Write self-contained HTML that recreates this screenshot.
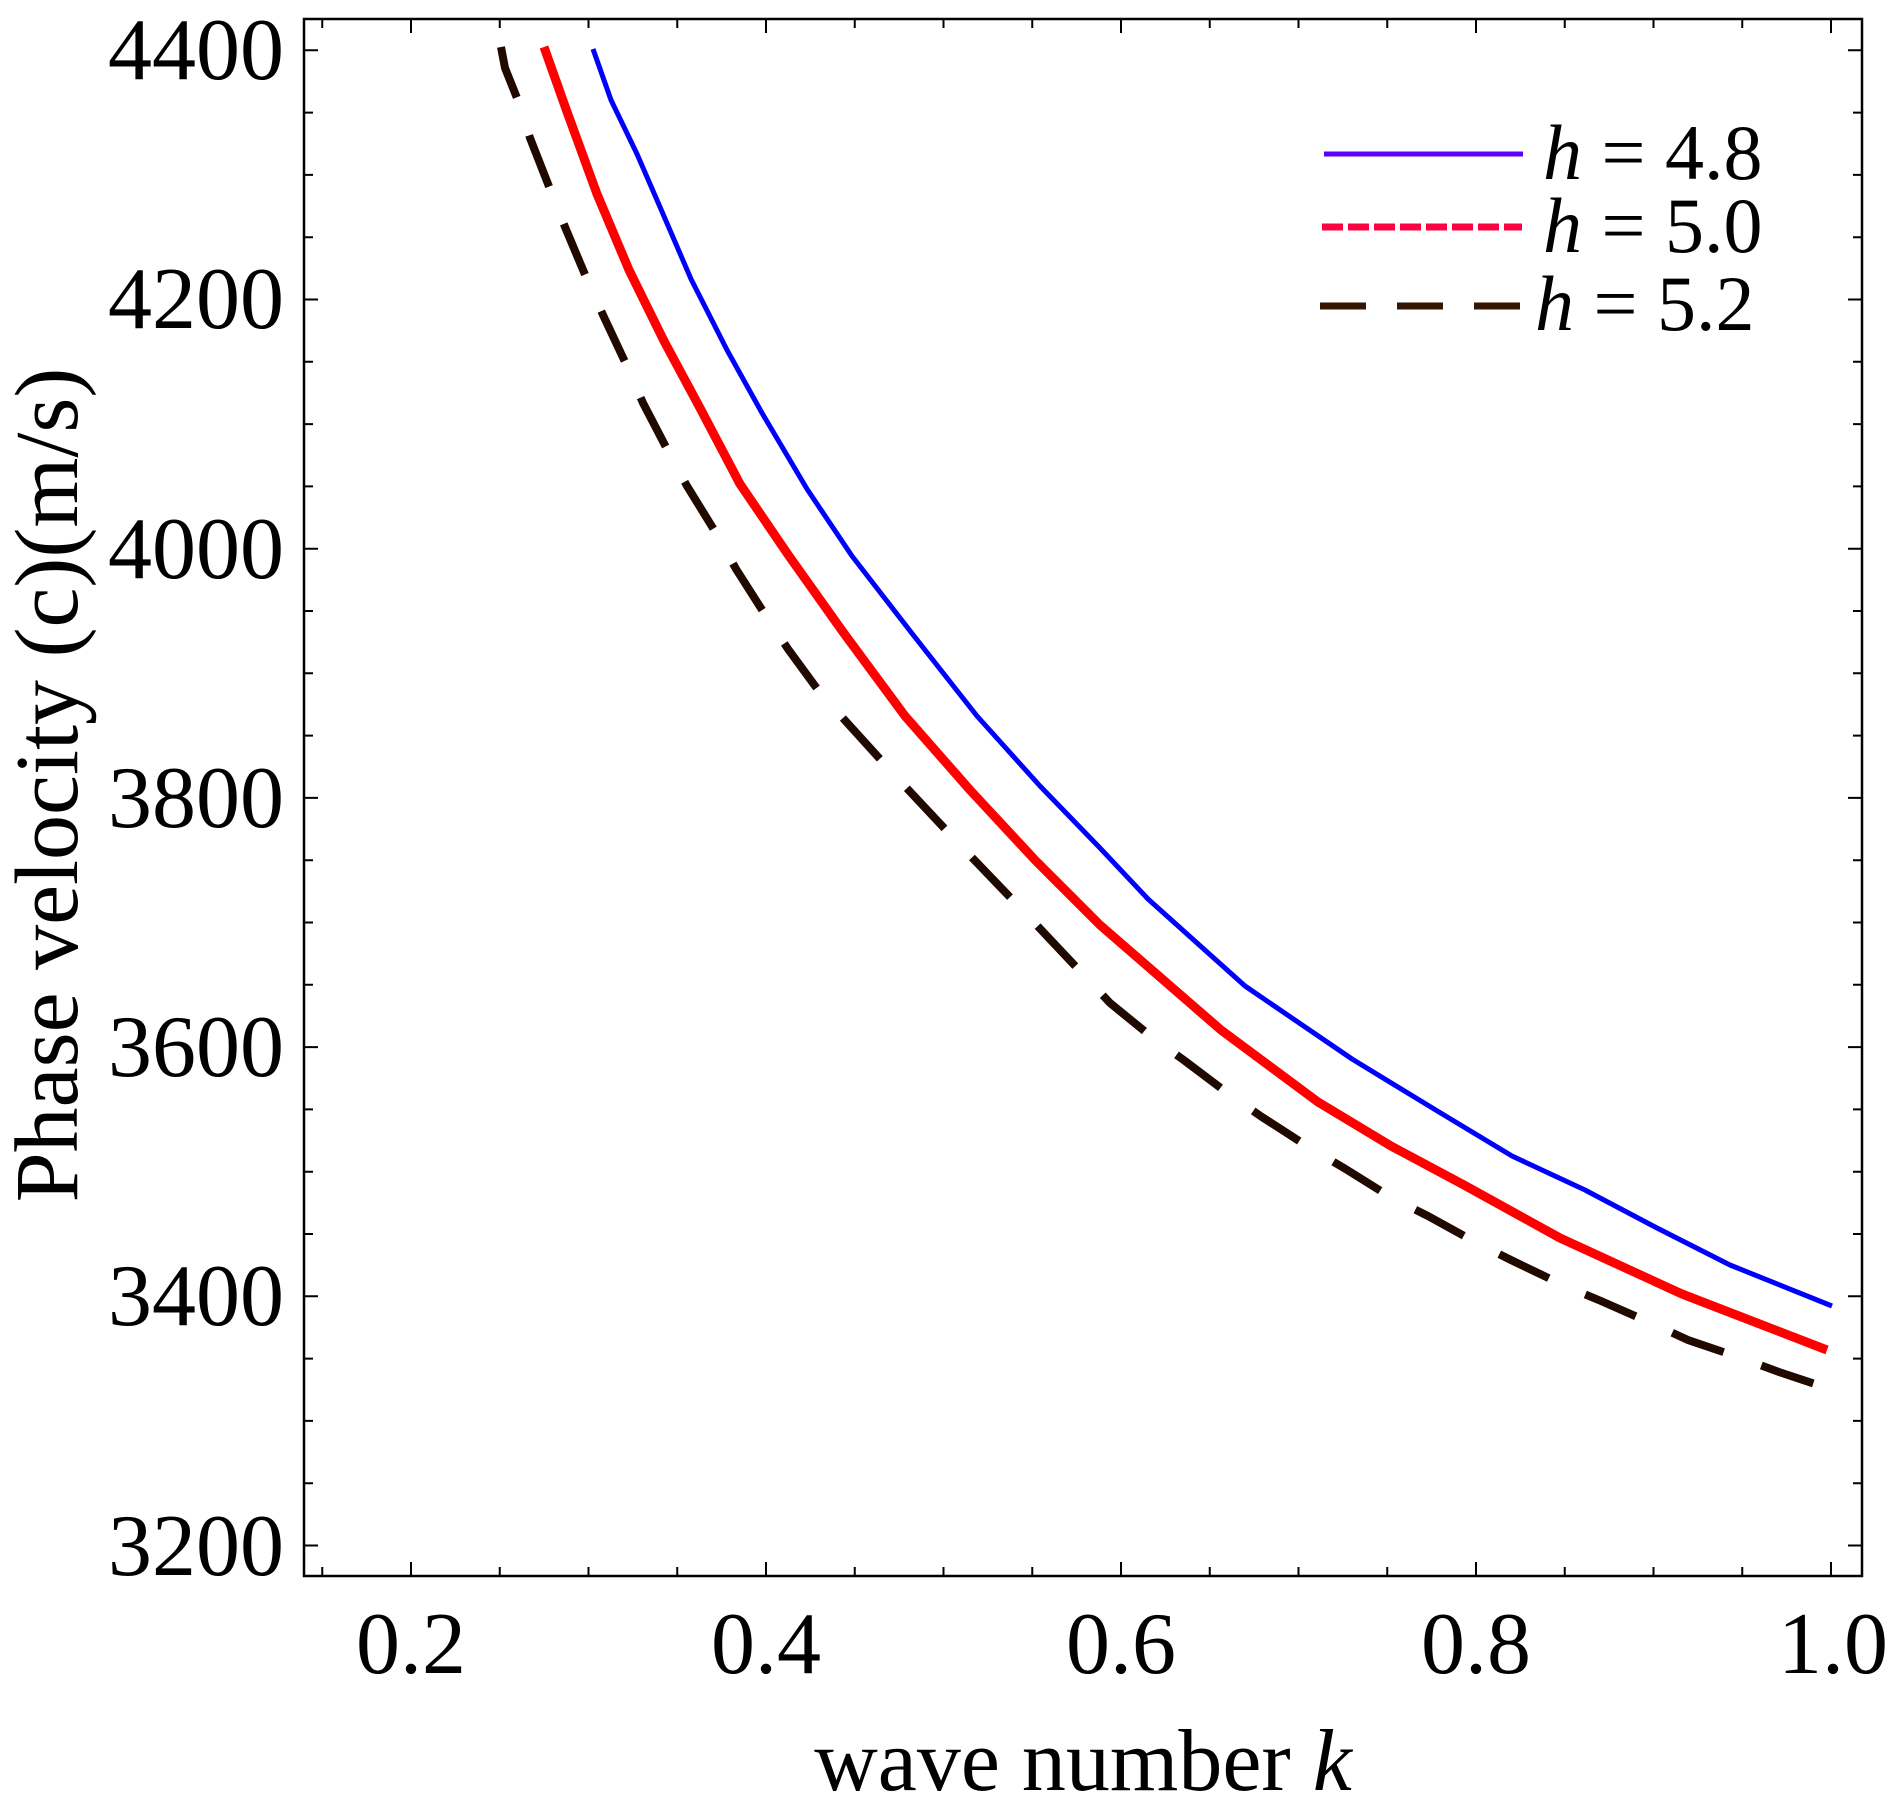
<!DOCTYPE html>
<html><head><meta charset="utf-8"><style>
html,body{margin:0;padding:0;background:#fff;}
svg{display:block;}
text{font-family:"Liberation Serif",serif;fill:#000;}
</style></head><body>
<svg width="1895" height="1809" viewBox="0 0 1895 1809" xmlns="http://www.w3.org/2000/svg">
<rect x="304" y="19" width="1558" height="1557" fill="none" stroke="#000" stroke-width="2.5"/>
<g stroke="#000" stroke-width="2" fill="none">
<!-- x ticks bottom -->
<path d="M322.25 1576v-9M411 1576v-14M499.75 1576v-9M588.5 1576v-9M677.25 1576v-9M766 1576v-14M854.75 1576v-9M943.5 1576v-9M1032.25 1576v-9M1121 1576v-14M1209.75 1576v-9M1298.5 1576v-9M1387.25 1576v-9M1476 1576v-14M1564.75 1576v-9M1653.5 1576v-9M1742.25 1576v-9M1831 1576v-14"/>
<!-- x ticks top -->
<path d="M322.25 19v9M411 19v14M499.75 19v9M588.5 19v9M677.25 19v9M766 19v14M854.75 19v9M943.5 19v9M1032.25 19v9M1121 19v14M1209.75 19v9M1298.5 19v9M1387.25 19v9M1476 19v14M1564.75 19v9M1653.5 19v9M1742.25 19v9M1831 19v14"/>
<!-- y ticks left -->
<path d="M304 50.3h14M304 112.6h9M304 174.9h9M304 237.2h9M304 299.5h14M304 361.8h9M304 424.1h9M304 486.4h9M304 548.7h14M304 611h9M304 673.3h9M304 735.6h9M304 797.9h14M304 860.2h9M304 922.5h9M304 984.8h9M304 1047.1h14M304 1109.4h9M304 1171.7h9M304 1234h9M304 1296.3h14M304 1358.6h9M304 1420.9h9M304 1483.2h9M304 1545.5h14"/>
<!-- y ticks right -->
<path d="M1862 50.3h-14M1862 112.6h-9M1862 174.9h-9M1862 237.2h-9M1862 299.5h-14M1862 361.8h-9M1862 424.1h-9M1862 486.4h-9M1862 548.7h-14M1862 611h-9M1862 673.3h-9M1862 735.6h-9M1862 797.9h-14M1862 860.2h-9M1862 922.5h-9M1862 984.8h-9M1862 1047.1h-14M1862 1109.4h-9M1862 1171.7h-9M1862 1234h-9M1862 1296.3h-14M1862 1358.6h-9M1862 1420.9h-9M1862 1483.2h-9M1862 1545.5h-14"/>
</g>
<g font-size="88" text-anchor="end">
<text x="284" y="79">4400</text>
<text x="284" y="328">4200</text>
<text x="284" y="578">4000</text>
<text x="284" y="827">3800</text>
<text x="284" y="1076">3600</text>
<text x="284" y="1325">3400</text>
<text x="284" y="1575">3200</text>
</g>
<g font-size="88" text-anchor="middle">
<text x="411" y="1673">0.2</text>
<text x="766" y="1673">0.4</text>
<text x="1121" y="1673">0.6</text>
<text x="1476" y="1673">0.8</text>
<text x="1833" y="1673">1.0</text>
</g>
<text x="1083" y="1790" font-size="88" text-anchor="middle">wave number <tspan font-style="italic">k</tspan></text>
<text transform="translate(77,785) rotate(-90)" font-size="90" text-anchor="middle">Phase velocity (c)(m/s)</text>

<!-- curves -->
<polyline fill="none" stroke="#0000ff" stroke-width="5" stroke-linejoin="round" points="593,49 611,100 637,154 660,207 691,279 727,350 762,413 807,489 852,556 914,636 977,716 1040,786 1100,848 1148,899 1245,986 1352,1059 1439,1112 1512,1156 1585,1190 1657,1228 1730,1265 1832,1306"/>
<polyline fill="none" stroke="#ff0000" stroke-width="9" stroke-linejoin="round" points="544,47 566,109 597,194 629,270 664,341 700,408 740,484 789,556 843,632 905,716 970,790 1035,860 1100,925 1221,1030 1318,1102 1391,1146 1464,1185 1560,1238 1682,1294 1827,1350"/>
<polyline fill="none" stroke="#200a00" stroke-width="8" stroke-dasharray="55 40" stroke-dashoffset="2" points="501,47 505,68 517,98 530,138 550,189 565,227 586,277 603,315 626,364 643,403 668,451 687,486 716,533 736,569 766,616 788,649 821,694 900,781 960,845 1030,918 1110,1003 1153,1038 1185,1061 1230,1095 1262,1117 1310,1148 1344,1168 1392,1198 1428,1216 1477,1243 1513,1261 1563,1285 1601,1301 1651,1323 1688,1340 1741,1358 1779,1372 1830,1389"/>

<!-- legend -->
<line x1="1324" y1="154" x2="1523" y2="154" stroke="#5a00ff" stroke-width="5"/>
<line x1="1322" y1="227" x2="1522" y2="227" stroke="#ff0040" stroke-width="7" stroke-dasharray="21 5"/>
<line x1="1320" y1="306" x2="1521" y2="306" stroke="#331500" stroke-width="7" stroke-dasharray="46 31"/>
<g font-size="78">
<text x="1543" y="179"><tspan font-style="italic">h</tspan> = 4.8</text>
<text x="1543" y="252"><tspan font-style="italic">h</tspan> = 5.0</text>
<text x="1535" y="330"><tspan font-style="italic">h</tspan> = 5.2</text>
</g>
</svg>
</body></html>
